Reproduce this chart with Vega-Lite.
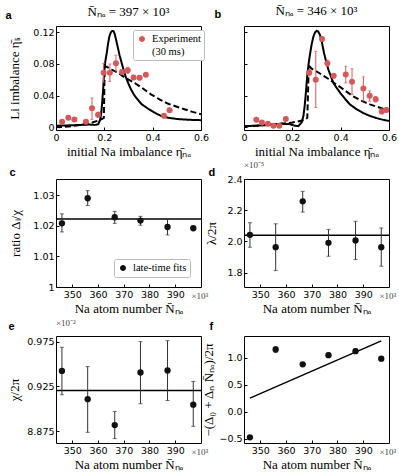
{
"$schema": "https://vega.github.io/schema/vega-lite/v6.json",
"background": "white",
"padding": {"left": 4, "top": 4, "right": 2, "bottom": 2},
"columns": 2,
"bounds": "flush",
"spacing": {"row": 49, "column": 43},
"resolve": {"scale": {"color": "independent", "strokeDash": "independent"}, "legend": {"color": "independent"}},
"datasets": {
"a_lines": [
{"x":0,"y":0.002,"kind":"theory"},{"x":0.06,"y":0.0025,"kind":"theory"},{"x":0.1,"y":0.003,"kind":"theory"},{"x":0.14,"y":0.0035,"kind":"theory"},{"x":0.16,"y":0.003,"kind":"theory"},{"x":0.175,"y":0.004,"kind":"theory"},{"x":0.183,"y":0.01,"kind":"theory"},{"x":0.188,"y":0.02,"kind":"theory"},{"x":0.192,"y":0.035,"kind":"theory"},{"x":0.196,"y":0.052,"kind":"theory"},{"x":0.199,"y":0.069,"kind":"theory"},{"x":0.204,"y":0.083,"kind":"theory"},{"x":0.21,"y":0.094,"kind":"theory"},{"x":0.215,"y":0.105,"kind":"theory"},{"x":0.221,"y":0.115,"kind":"theory"},{"x":0.227,"y":0.12,"kind":"theory"},{"x":0.232,"y":0.1216,"kind":"theory"},{"x":0.238,"y":0.1215,"kind":"theory"},{"x":0.243,"y":0.118,"kind":"theory"},{"x":0.249,"y":0.11,"kind":"theory"},{"x":0.255,"y":0.102,"kind":"theory"},{"x":0.263,"y":0.091,"kind":"theory"},{"x":0.272,"y":0.081,"kind":"theory"},{"x":0.28,"y":0.072,"kind":"theory"},{"x":0.29,"y":0.0625,"kind":"theory"},{"x":0.3,"y":0.055,"kind":"theory"},{"x":0.31,"y":0.048,"kind":"theory"},{"x":0.323,"y":0.041,"kind":"theory"},{"x":0.338,"y":0.035,"kind":"theory"},{"x":0.355,"y":0.029,"kind":"theory"},{"x":0.379,"y":0.024,"kind":"theory"},{"x":0.405,"y":0.019,"kind":"theory"},{"x":0.434,"y":0.0145,"kind":"theory"},{"x":0.465,"y":0.012,"kind":"theory"},{"x":0.503,"y":0.0104,"kind":"theory"},{"x":0.55,"y":0.0095,"kind":"theory"},{"x":0.6,"y":0.009,"kind":"theory"},
{"x":0,"y":0.0,"kind":"model"},{"x":0.05,"y":0.001,"kind":"model"},{"x":0.1,"y":0.003,"kind":"model"},{"x":0.15,"y":0.006,"kind":"model"},{"x":0.18,"y":0.009,"kind":"model"},{"x":0.198,"y":0.012,"kind":"model"},{"x":0.2,"y":0.05,"kind":"model"},{"x":0.202,"y":0.077,"kind":"model"},{"x":0.21,"y":0.0765,"kind":"model"},{"x":0.23,"y":0.073,"kind":"model"},{"x":0.255,"y":0.069,"kind":"model"},{"x":0.29,"y":0.062,"kind":"model"},{"x":0.326,"y":0.056,"kind":"model"},{"x":0.36,"y":0.049,"kind":"model"},{"x":0.393,"y":0.0416,"kind":"model"},{"x":0.43,"y":0.035,"kind":"model"},{"x":0.462,"y":0.03,"kind":"model"},{"x":0.5,"y":0.026,"kind":"model"},{"x":0.531,"y":0.0229,"kind":"model"},{"x":0.565,"y":0.0195,"kind":"model"},{"x":0.6,"y":0.0166,"kind":"model"}
],
"a_pts": [
{"x":0.025,"y":0.007,"lo":0.005,"hi":0.009,"series":"Experiment"},
{"x":0.051,"y":0.012,"lo":0.010,"hi":0.014,"series":"Experiment"},
{"x":0.076,"y":0.010,"lo":0.008,"hi":0.012,"series":"Experiment"},
{"x":0.124,"y":0.007,"lo":0.005,"hi":0.009,"series":"Experiment"},
{"x":0.149,"y":0.024,"lo":0.010,"hi":0.037,"series":"Experiment"},
{"x":0.174,"y":0.016,"lo":0.013,"hi":0.019,"series":"Experiment"},
{"x":0.197,"y":0.069,"lo":0.057,"hi":0.081,"series":"Experiment"},
{"x":0.223,"y":0.069,"lo":0.058,"hi":0.080,"series":"Experiment"},
{"x":0.248,"y":0.081,"lo":0.071,"hi":0.091,"series":"Experiment"},
{"x":0.273,"y":0.070,"lo":0.067,"hi":0.073,"series":"Experiment"},
{"x":0.297,"y":0.072,"lo":0.068,"hi":0.076,"series":"Experiment"},
{"x":0.321,"y":0.063,"lo":0.061,"hi":0.065,"series":"Experiment"},
{"x":0.346,"y":0.0625,"lo":0.060,"hi":0.065,"series":"Experiment"},
{"x":0.372,"y":0.0665,"lo":0.064,"hi":0.069,"series":"Experiment"},
{"x":0.447,"y":0.0145,"lo":0.012,"hi":0.017,"series":"Experiment"},
{"x":0.470,"y":0.0216,"lo":0.019,"hi":0.024,"series":"Experiment"}
],
"b_lines": [
{"x":0,"y":0.0015,"kind":"theory"},{"x":0.05,"y":0.002,"kind":"theory"},{"x":0.1,"y":0.003,"kind":"theory"},{"x":0.15,"y":0.0045,"kind":"theory"},{"x":0.19,"y":0.004,"kind":"theory"},{"x":0.21,"y":0.002,"kind":"theory"},{"x":0.225,"y":0.0015,"kind":"theory"},{"x":0.238,"y":0.006,"kind":"theory"},{"x":0.246,"y":0.0145,"kind":"theory"},{"x":0.251,"y":0.027,"kind":"theory"},{"x":0.255,"y":0.04,"kind":"theory"},{"x":0.259,"y":0.055,"kind":"theory"},{"x":0.263,"y":0.069,"kind":"theory"},{"x":0.268,"y":0.082,"kind":"theory"},{"x":0.274,"y":0.094,"kind":"theory"},{"x":0.28,"y":0.105,"kind":"theory"},{"x":0.287,"y":0.1145,"kind":"theory"},{"x":0.294,"y":0.12,"kind":"theory"},{"x":0.301,"y":0.122,"kind":"theory"},{"x":0.307,"y":0.121,"kind":"theory"},{"x":0.314,"y":0.117,"kind":"theory"},{"x":0.322,"y":0.108,"kind":"theory"},{"x":0.331,"y":0.094,"kind":"theory"},{"x":0.34,"y":0.083,"kind":"theory"},{"x":0.349,"y":0.073,"kind":"theory"},{"x":0.36,"y":0.064,"kind":"theory"},{"x":0.37,"y":0.056,"kind":"theory"},{"x":0.383,"y":0.05,"kind":"theory"},{"x":0.397,"y":0.044,"kind":"theory"},{"x":0.418,"y":0.036,"kind":"theory"},{"x":0.438,"y":0.029,"kind":"theory"},{"x":0.465,"y":0.023,"kind":"theory"},{"x":0.494,"y":0.018,"kind":"theory"},{"x":0.52,"y":0.0145,"kind":"theory"},{"x":0.549,"y":0.0116,"kind":"theory"},{"x":0.575,"y":0.0095,"kind":"theory"},{"x":0.6,"y":0.008,"kind":"theory"},
{"x":0,"y":0.001,"kind":"model"},{"x":0.1,"y":0.003,"kind":"model"},{"x":0.2,"y":0.006,"kind":"model"},{"x":0.25,"y":0.009,"kind":"model"},{"x":0.262,"y":0.012,"kind":"model"},{"x":0.265,"y":0.045,"kind":"model"},{"x":0.268,"y":0.078,"kind":"model"},{"x":0.28,"y":0.074,"kind":"model"},{"x":0.314,"y":0.068,"kind":"model"},{"x":0.35,"y":0.061,"kind":"model"},{"x":0.383,"y":0.054,"kind":"model"},{"x":0.42,"y":0.046,"kind":"model"},{"x":0.452,"y":0.039,"kind":"model"},{"x":0.49,"y":0.033,"kind":"model"},{"x":0.521,"y":0.029,"kind":"model"},{"x":0.56,"y":0.025,"kind":"model"},{"x":0.6,"y":0.021,"kind":"model"}
],
"b_pts": [
{"x":0.051,"y":0.0095,"lo":0.007,"hi":0.012},
{"x":0.074,"y":0.0062,"lo":0.004,"hi":0.008},
{"x":0.099,"y":0.0045,"lo":0.002,"hi":0.007},
{"x":0.122,"y":0.002,"lo":0.0,"hi":0.004},
{"x":0.146,"y":0.002,"lo":0.0,"hi":0.004},
{"x":0.173,"y":0.0104,"lo":0.008,"hi":0.013},
{"x":0.270,"y":0.069,"lo":0.065,"hi":0.073},
{"x":0.297,"y":0.060,"lo":0.025,"hi":0.096},
{"x":0.323,"y":0.1116,"lo":0.109,"hi":0.114},
{"x":0.345,"y":0.081,"lo":0.077,"hi":0.085},
{"x":0.371,"y":0.065,"lo":0.062,"hi":0.068},
{"x":0.421,"y":0.0666,"lo":0.056,"hi":0.077},
{"x":0.447,"y":0.0575,"lo":0.0416,"hi":0.074},
{"x":0.494,"y":0.049,"lo":0.0333,"hi":0.0637},
{"x":0.520,"y":0.040,"lo":0.033,"hi":0.046},
{"x":0.545,"y":0.0354,"lo":0.032,"hi":0.039},
{"x":0.570,"y":0.020,"lo":0.017,"hi":0.023},
{"x":0.589,"y":0.022,"lo":0.019,"hi":0.025}
],
"c_pts": [
{"N":346,"y":1.0208,"lo":1.018,"hi":1.0239,"series":"late-time fits"},
{"N":356,"y":1.029,"lo":1.0266,"hi":1.0315,"series":"late-time fits"},
{"N":366.5,"y":1.0228,"lo":1.0208,"hi":1.0247,"series":"late-time fits"},
{"N":376.5,"y":1.0217,"lo":1.0202,"hi":1.0231,"series":"late-time fits"},
{"N":387,"y":1.0196,"lo":1.017,"hi":1.0221,"series":"late-time fits"},
{"N":397,"y":1.0192,"lo":1.0187,"hi":1.0197,"series":"late-time fits"}
],
"c_fit": [{"fit":1.0222}],
"d_pts": [
{"N":346,"y":2.042,"lo":1.963,"hi":2.12},
{"N":356,"y":1.963,"lo":1.813,"hi":2.113},
{"N":366.5,"y":2.257,"lo":2.188,"hi":2.321},
{"N":376.5,"y":1.991,"lo":1.905,"hi":2.077},
{"N":387,"y":2.006,"lo":1.884,"hi":2.129},
{"N":397,"y":1.963,"lo":1.841,"hi":2.086}
],
"d_fit": [{"fit":2.039}],
"e_pts": [
{"N":346,"y":0.9424,"lo":0.9158,"hi":0.9687},
{"N":356,"y":0.9109,"lo":0.8739,"hi":0.9472},
{"N":366.5,"y":0.882,"lo":0.8669,"hi":0.8972},
{"N":376.5,"y":0.9406,"lo":0.9058,"hi":0.975},
{"N":387,"y":0.9428,"lo":0.9094,"hi":0.9761},
{"N":397,"y":0.9047,"lo":0.8806,"hi":0.9306}
],
"e_fit": [{"fit":0.9206}],
"f_pts": [
{"N":346,"y":-0.475,"lo":-0.5,"hi":-0.45},
{"N":356,"y":1.15,"lo":1.1,"hi":1.2},
{"N":366.5,"y":0.876,"lo":0.85,"hi":0.9},
{"N":376.5,"y":1.045,"lo":1.005,"hi":1.085},
{"N":387,"y":1.12,"lo":1.08,"hi":1.16},
{"N":397,"y":0.98,"lo":0.94,"hi":1.02}
],
"f_fit": [{"N":346,"y":0.25},{"N":397,"y":1.31}]
},
"concat": [
{
"width": 145, "height": 104,
"title": {"text": "N̄ₙₐ = 397 × 10³", "anchor": "middle", "frame": "group", "dy": 14},
"resolve": {"axis": {"x": "independent", "y": "independent"}},
"layer": [
{"data": {"name": "a_lines"}, "mark": {"type": "line", "color": "black", "strokeWidth": 2},
 "encoding": {
  "x": {"field": "x", "type": "quantitative", "scale": {"domain": [0, 0.6], "nice": false, "zero": false}, "axis": null},
  "y": {"field": "y", "type": "quantitative", "scale": {"domain": [-0.0034, 0.128], "nice": false, "zero": false},
        "axis": {"orient": "left", "title": "a", "titleX": -51, "titleY": -8, "titleAngle": 0, "titleAlign": "left", "titleBaseline": "alphabetic", "titleFont": "Liberation Sans", "titleFontWeight": "bold", "titleFontSize": 11, "labels": false, "ticks": false}},
  "strokeDash": {"field": "kind", "type": "nominal", "scale": {"domain": ["theory", "model"], "range": [[1, 0], [6, 3]]}, "legend": null}
 }},
{"data": {"name": "a_pts"}, "mark": {"type": "errorbar", "color": "#d45a5a", "thickness": 1, "ticks": {"size": 3}},
 "encoding": {
  "x": {"field": "x", "type": "quantitative", "scale": {"domain": [0, 0.6], "nice": false, "zero": false}, "axis": null},
  "y": {"field": "lo", "type": "quantitative", "scale": {"domain": [-0.0034, 0.128], "nice": false, "zero": false}, "axis": null},
  "y2": {"field": "hi"}
 }},
{"data": {"name": "a_pts"}, "mark": {"type": "circle", "size": 36, "opacity": 1},
 "encoding": {
  "x": {"field": "x", "type": "quantitative", "scale": {"domain": [0, 0.6], "nice": false, "zero": false},
        "axis": {"orient": "bottom", "title": "initial Na imbalance η̄ₙₐ", "values": [0, 0.2, 0.4, 0.6], "format": ".1~f"}},
  "y": {"field": "y", "type": "quantitative", "scale": {"domain": [-0.0034, 0.128], "nice": false, "zero": false},
        "axis": {"orient": "left", "title": "Li imbalance η̄ₗᵢ", "values": [0, 0.04, 0.08, 0.12], "format": ".2~f", "titlePadding": 11}},
  "color": {"field": "series", "type": "nominal", "scale": {"domain": ["Experiment"], "range": ["#d45a5a"]},
   "legend": {"title": null, "orient": "none", "legendX": 77, "legendY": 4, "labelExpr": "['Experiment', '(30 ms)']",
     "symbolType": "M-0.3,-1.2H0.3M0,-1.2V1.2M-0.3,1.2H0.3M-0.6,0A0.6,0.6,0,1,1,0.6,0A0.6,0.6,0,1,1,-0.6,0Z", "symbolSize": 100,
     "encode": {"symbols": {"update": {"stroke": {"value": "#d45a5a"}, "strokeWidth": {"value": 1}, "fill": {"value": "#d45a5a"}, "opacity": {"value": 1}}}}}}
 }}
]
},
{
"width": 145, "height": 104,
"title": {"text": "N̄ₙₐ = 346 × 10³", "anchor": "middle", "frame": "group", "dy": 14},
"resolve": {"axis": {"x": "independent", "y": "independent"}},
"layer": [
{"data": {"name": "b_lines"}, "mark": {"type": "line", "color": "black", "strokeWidth": 2},
 "encoding": {
  "x": {"field": "x", "type": "quantitative", "scale": {"domain": [0, 0.6], "nice": false, "zero": false}, "axis": null},
  "y": {"field": "y", "type": "quantitative", "scale": {"domain": [-0.0034, 0.128], "nice": false, "zero": false},
        "axis": {"orient": "left", "title": "b", "titleX": -30, "titleY": -9, "titleAngle": 0, "titleAlign": "left", "titleBaseline": "alphabetic", "titleFont": "Liberation Sans", "titleFontWeight": "bold", "titleFontSize": 11, "labels": false, "ticks": false}},
  "strokeDash": {"field": "kind", "type": "nominal", "scale": {"domain": ["theory", "model"], "range": [[1, 0], [6, 3]]}, "legend": null}
 }},
{"data": {"name": "b_pts"}, "mark": {"type": "errorbar", "color": "#d45a5a", "thickness": 1, "ticks": {"size": 3}},
 "encoding": {
  "x": {"field": "x", "type": "quantitative", "scale": {"domain": [0, 0.6], "nice": false, "zero": false}, "axis": null},
  "y": {"field": "lo", "type": "quantitative", "scale": {"domain": [-0.0034, 0.128], "nice": false, "zero": false}, "axis": null},
  "y2": {"field": "hi"}
 }},
{"data": {"name": "b_pts"}, "mark": {"type": "circle", "size": 36, "opacity": 1, "color": "#d45a5a"},
 "encoding": {
  "x": {"field": "x", "type": "quantitative", "scale": {"domain": [0, 0.6], "nice": false, "zero": false},
        "axis": {"orient": "bottom", "title": "initial Na imbalance η̄ₙₐ", "values": [0, 0.2, 0.4, 0.6], "format": ".1~f"}},
  "y": {"field": "y", "type": "quantitative", "scale": {"domain": [-0.0034, 0.128], "nice": false, "zero": false},
        "axis": {"orient": "left", "title": null, "values": [0, 0.04, 0.08, 0.12], "labels": false}}
 }}
]
},
{
"width": 145, "height": 108,
"resolve": {"axis": {"x": "independent", "y": "independent"}},
"layer": [
{"data": {"name": "c_fit"}, "mark": {"type": "rule", "color": "black", "strokeWidth": 1.5},
 "encoding": {
  "y": {"field": "fit", "type": "quantitative", "scale": {"domain": [1.0, 1.0353], "nice": false, "zero": false},
        "axis": {"orient": "left", "title": "c", "titleX": -47, "titleY": -3.5, "titleAngle": 0, "titleAlign": "left", "titleBaseline": "alphabetic", "titleFont": "Liberation Sans", "titleFontWeight": "bold", "titleFontSize": 11, "labels": false, "ticks": false}}
 }},
{"data": {"name": "c_pts"}, "mark": {"type": "errorbar", "color": "#333333", "thickness": 1, "ticks": {"size": 4}},
 "encoding": {
  "x": {"field": "N", "type": "quantitative", "scale": {"domain": [343.7, 400], "nice": false, "zero": false},
        "axis": {"orient": "bottom", "title": "×10³", "titleX": 135, "titleY": 11, "titleAngle": 0, "titleAlign": "left", "titleBaseline": "alphabetic", "titleFontSize": 9, "titleColor": "#444444", "labels": false, "ticks": false}},
  "y": {"field": "lo", "type": "quantitative", "scale": {"domain": [1.0, 1.0353], "nice": false, "zero": false}, "axis": null},
  "y2": {"field": "hi"}
 }},
{"data": {"name": "c_pts"}, "mark": {"type": "circle", "size": 40, "opacity": 1},
 "encoding": {
  "x": {"field": "N", "type": "quantitative", "scale": {"domain": [343.7, 400], "nice": false, "zero": false},
        "axis": {"orient": "bottom", "title": "Na atom number  N̄ₙₐ", "values": [350, 360, 370, 380, 390], "format": "d"}},
  "y": {"field": "y", "type": "quantitative", "scale": {"domain": [1.0, 1.0353], "nice": false, "zero": false},
        "axis": {"orient": "left", "title": "ratio Δₗ/χ", "values": [1.0, 1.01, 1.02, 1.03], "format": ".2~f", "titlePadding": 10}},
  "color": {"field": "series", "type": "nominal", "scale": {"domain": ["late-time fits"], "range": ["#111111"]},
   "legend": {"title": null, "orient": "none", "legendX": 58, "legendY": 80,
     "symbolType": "M-0.3,-1.2H0.3M0,-1.2V1.2M-0.3,1.2H0.3M-0.6,0A0.6,0.6,0,1,1,0.6,0A0.6,0.6,0,1,1,-0.6,0Z", "symbolSize": 100,
     "encode": {"symbols": {"update": {"stroke": {"value": "#111111"}, "strokeWidth": {"value": 1}, "fill": {"value": "#111111"}, "opacity": {"value": 1}}}}}}
 }}
]
},
{
"width": 145, "height": 108,
"title": {"text": "×10⁻⁵", "anchor": "start", "frame": "group", "dy": 8, "fontSize": 9, "color": "#444444"},
"resolve": {"axis": {"x": "independent", "y": "independent"}},
"layer": [
{"data": {"name": "d_fit"}, "mark": {"type": "rule", "color": "black", "strokeWidth": 1.5},
 "encoding": {
  "y": {"field": "fit", "type": "quantitative", "scale": {"domain": [1.708, 2.4], "nice": false, "zero": false},
        "axis": {"orient": "left", "title": "d", "titleX": -36, "titleY": -4, "titleAngle": 0, "titleAlign": "left", "titleBaseline": "alphabetic", "titleFont": "Liberation Sans", "titleFontWeight": "bold", "titleFontSize": 11, "labels": false, "ticks": false}}
 }},
{"data": {"name": "d_pts"}, "mark": {"type": "errorbar", "color": "#333333", "thickness": 1, "ticks": {"size": 4}},
 "encoding": {
  "x": {"field": "N", "type": "quantitative", "scale": {"domain": [343.7, 400], "nice": false, "zero": false},
        "axis": {"orient": "bottom", "title": "×10³", "titleX": 135, "titleY": 11, "titleAngle": 0, "titleAlign": "left", "titleBaseline": "alphabetic", "titleFontSize": 9, "titleColor": "#444444", "labels": false, "ticks": false}},
  "y": {"field": "lo", "type": "quantitative", "scale": {"domain": [1.708, 2.4], "nice": false, "zero": false}, "axis": null},
  "y2": {"field": "hi"}
 }},
{"data": {"name": "d_pts"}, "mark": {"type": "circle", "size": 40, "opacity": 1, "color": "#111111"},
 "encoding": {
  "x": {"field": "N", "type": "quantitative", "scale": {"domain": [343.7, 400], "nice": false, "zero": false},
        "axis": {"orient": "bottom", "title": "Na atom number  N̄ₙₐ", "values": [350, 360, 370, 380, 390], "format": "d"}},
  "y": {"field": "y", "type": "quantitative", "scale": {"domain": [1.708, 2.4], "nice": false, "zero": false},
        "axis": {"orient": "left", "title": "λ/2π", "values": [1.8, 2.0, 2.2, 2.4], "format": ".1f", "titlePadding": 8}}
 }}
]
},
{
"width": 145, "height": 107,
"title": {"text": "×10⁻²", "anchor": "start", "frame": "group", "dy": 11.5, "fontSize": 9, "color": "#444444"},
"resolve": {"axis": {"x": "independent", "y": "independent"}},
"layer": [
{"data": {"name": "e_fit"}, "mark": {"type": "rule", "color": "black", "strokeWidth": 1.5},
 "encoding": {
  "y": {"field": "fit", "type": "quantitative", "scale": {"domain": [0.862, 0.9813], "nice": false, "zero": false},
        "axis": {"orient": "left", "title": "e", "titleX": -48, "titleY": -7, "titleAngle": 0, "titleAlign": "left", "titleBaseline": "alphabetic", "titleFont": "Liberation Sans", "titleFontWeight": "bold", "titleFontSize": 11, "labels": false, "ticks": false}}
 }},
{"data": {"name": "e_pts"}, "mark": {"type": "errorbar", "color": "#333333", "thickness": 1, "ticks": {"size": 4}},
 "encoding": {
  "x": {"field": "N", "type": "quantitative", "scale": {"domain": [343.7, 400], "nice": false, "zero": false},
        "axis": {"orient": "bottom", "title": "×10³", "titleX": 135, "titleY": 11, "titleAngle": 0, "titleAlign": "left", "titleBaseline": "alphabetic", "titleFontSize": 9, "titleColor": "#444444", "labels": false, "ticks": false}},
  "y": {"field": "lo", "type": "quantitative", "scale": {"domain": [0.862, 0.9813], "nice": false, "zero": false}, "axis": null},
  "y2": {"field": "hi"}
 }},
{"data": {"name": "e_pts"}, "mark": {"type": "circle", "size": 40, "opacity": 1, "color": "#111111"},
 "encoding": {
  "x": {"field": "N", "type": "quantitative", "scale": {"domain": [343.7, 400], "nice": false, "zero": false},
        "axis": {"orient": "bottom", "title": "Na atom number  N̄ₙₐ", "values": [350, 360, 370, 380, 390], "format": "d"}},
  "y": {"field": "y", "type": "quantitative", "scale": {"domain": [0.862, 0.9813], "nice": false, "zero": false},
        "axis": {"orient": "left", "title": "χ/2π", "values": [0.875, 0.925, 0.975], "labelExpr": "datum.value < 0.9 ? '8.875' : format(datum.value, '.3f')", "titlePadding": 5}}
 }}
]
},
{
"width": 145, "height": 107,
"resolve": {"axis": {"x": "independent", "y": "independent"}},
"layer": [
{"data": {"name": "f_fit"}, "mark": {"type": "line", "color": "black", "strokeWidth": 1.5},
 "encoding": {
  "x": {"field": "N", "type": "quantitative", "scale": {"domain": [343.7, 400], "nice": false, "zero": false}, "axis": null},
  "y": {"field": "y", "type": "quantitative", "scale": {"domain": [-0.58, 1.4], "nice": false, "zero": false},
        "axis": {"orient": "left", "title": "f", "titleX": -35, "titleY": -7, "titleAngle": 0, "titleAlign": "left", "titleBaseline": "alphabetic", "titleFont": "Liberation Sans", "titleFontWeight": "bold", "titleFontSize": 11, "labels": false, "ticks": false}}
 }},
{"data": {"name": "f_pts"}, "mark": {"type": "errorbar", "color": "#333333", "thickness": 1, "ticks": {"size": 4}},
 "encoding": {
  "x": {"field": "N", "type": "quantitative", "scale": {"domain": [343.7, 400], "nice": false, "zero": false},
        "axis": {"orient": "bottom", "title": "×10³", "titleX": 135, "titleY": 11, "titleAngle": 0, "titleAlign": "left", "titleBaseline": "alphabetic", "titleFontSize": 9, "titleColor": "#444444", "labels": false, "ticks": false}},
  "y": {"field": "lo", "type": "quantitative", "scale": {"domain": [-0.58, 1.4], "nice": false, "zero": false}, "axis": null},
  "y2": {"field": "hi"}
 }},
{"data": {"name": "f_pts"}, "mark": {"type": "circle", "size": 40, "opacity": 1, "color": "#111111"},
 "encoding": {
  "x": {"field": "N", "type": "quantitative", "scale": {"domain": [343.7, 400], "nice": false, "zero": false},
        "axis": {"orient": "bottom", "title": "Na atom number  N̄ₙₐ", "values": [350, 360, 370, 380, 390], "format": "d"}},
  "y": {"field": "y", "type": "quantitative", "scale": {"domain": [-0.58, 1.4], "nice": false, "zero": false},
        "axis": {"orient": "left", "title": "−(Δ₀ + Δₙ N̄ₙₐ)/2π", "values": [-0.5, 0, 0.5, 1.0], "format": ".1f", "titlePadding": 3}}
 }}
]
}
],
"config": {
 "view": {"stroke": "black", "strokeWidth": 1},
 "axis": {"domain": false, "grid": false, "tickColor": "black", "tickSize": -3, "labelPadding": 5, "labelFont": "DejaVu Sans", "labelFontSize": 9.5, "labelColor": "black", "labelFlush": false, "labelOverlap": false, "labelBound": false, "titleFont": "Liberation Serif", "titleFontSize": 13, "titleFontWeight": "normal", "titleColor": "black"},
 "title": {"font": "Liberation Serif", "fontSize": 13, "fontWeight": "normal", "color": "black", "offset": 0},
 "legend": {"labelFont": "Liberation Serif", "labelFontSize": 10.5, "labelColor": "black", "strokeColor": "#bbbbbb", "fillColor": "white", "padding": 3, "cornerRadius": 2, "labelOffset": 4}
}
}
